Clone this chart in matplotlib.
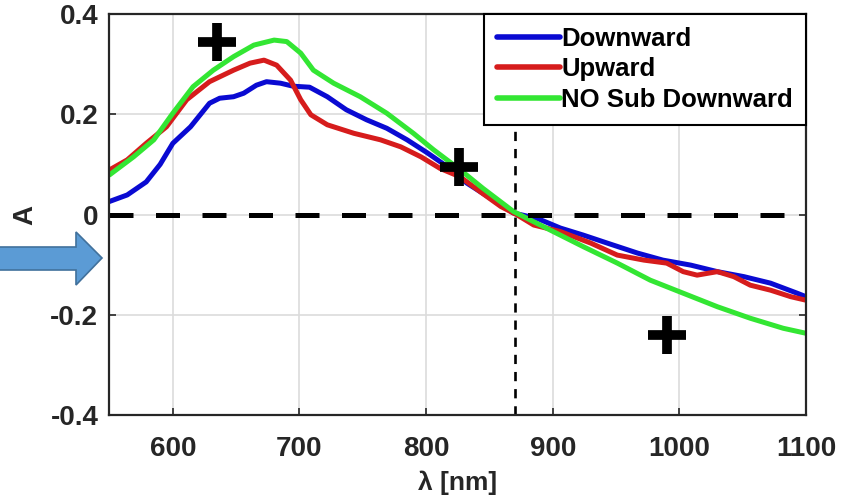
import matplotlib
matplotlib.use("Agg")
import matplotlib.pyplot as plt
from matplotlib.patches import Polygon

plt.rcParams['font.family'] = ['Liberation Sans', 'DejaVu Sans']
plt.rcParams['font.weight'] = 'bold'

# Downward
down_x = [550, 564, 579, 590, 600, 614, 629, 637, 648, 656, 666, 674, 685, 695, 708,
          722, 737, 753, 769, 785, 801, 817, 832, 853, 869, 888, 906, 924, 943, 967,
          987, 1009, 1030, 1051, 1072, 1093, 1100]
down_y = [0.026, 0.039, 0.065, 0.100, 0.142, 0.175, 0.222, 0.232, 0.235, 0.242, 0.258,
          0.265, 0.262, 0.256, 0.254, 0.235, 0.209, 0.189, 0.172, 0.149, 0.123, 0.095,
          0.063, 0.029, 0.003, -0.008, -0.027, -0.041, -0.057, -0.077, -0.091, -0.101,
          -0.114, -0.124, -0.137, -0.157, -0.164]

# Upward
up_x = [550, 564, 579, 595, 611, 629, 648, 661, 672, 682, 693, 701, 709, 722, 743,
        764, 780, 796, 811, 827, 843, 859, 872, 885, 906, 930, 951, 972, 990, 1003,
        1014, 1030, 1043, 1056, 1072, 1088, 1100]
up_y = [0.089, 0.109, 0.142, 0.175, 0.229, 0.265, 0.288, 0.302, 0.308, 0.298, 0.268,
        0.229, 0.199, 0.179, 0.162, 0.149, 0.135, 0.115, 0.092, 0.075, 0.045, 0.016,
        -0.001, -0.021, -0.034, -0.057, -0.081, -0.091, -0.097, -0.114, -0.121, -0.114,
        -0.124, -0.141, -0.151, -0.164, -0.171]

# NO Sub Downward
nosub_x = [550, 569, 585, 600, 616, 632, 648, 664, 680, 690, 701, 711, 727, 748, 769,
           790, 806, 827, 845, 869, 898, 924, 951, 977, 1003, 1030, 1056, 1082, 1100]
nosub_y = [0.079, 0.115, 0.149, 0.202, 0.255, 0.288, 0.315, 0.338, 0.348, 0.345, 0.322,
           0.288, 0.262, 0.235, 0.202, 0.162, 0.129, 0.089, 0.052, 0.006, -0.031, -0.064,
           -0.097, -0.131, -0.157, -0.184, -0.207, -0.227, -0.237]

# plus markers
plus_x = [635, 826, 990]
plus_y = [0.345, 0.095, -0.24]

cross_x = 870
x_ticks = [600, 700, 800, 900, 1000, 1100]
y_ticks = [-0.4, -0.2, 0, 0.2, 0.4]
tick_labels_y = ['-0.4', '-0.2', '0', '0.2', '0.4']

fig = plt.figure(figsize=(8.58, 5.01), dpi=100)
ax = fig.add_axes([0.1276, 0.1717, 0.9394 - 0.1276, 0.972 - 0.1717])

ax.grid(True, color='#dcdcdc', linewidth=1.2, zorder=0)
ax.axhline(0, color='black', linewidth=3.6, linestyle=(0, (4.8, 4.5)), zorder=4)
ax.axvline(cross_x, color='black', linewidth=1.9, linestyle=(0, (3.5, 3.0)), zorder=4)

ax.plot(down_x, down_y, color='#0a0ad2', lw=3.6, label='Downward', zorder=3,
        solid_joinstyle='round', solid_capstyle='round')
ax.plot(up_x, up_y, color='#d61c1c', lw=3.6, label='Upward', zorder=3,
        solid_joinstyle='round', solid_capstyle='round')
ax.plot(nosub_x, nosub_y, color='#33e633', lw=3.6, label='NO Sub Downward', zorder=3,
        solid_joinstyle='round', solid_capstyle='round')

ax.plot(plus_x, plus_y, linestyle='none', marker='+', markersize=27, markeredgewidth=7,
        color='black', zorder=5)

ax.set_xlim(550, 1100)
ax.set_ylim(-0.4, 0.4)
ax.set_xticks(x_ticks)
ax.set_yticks(y_ticks)
ax.set_yticklabels(tick_labels_y)
ax.tick_params(direction='in', length=5, width=1.2, labelsize=20, colors='#262626',
               top=False, right=True)
ax.tick_params(axis='x', pad=15)
ax.tick_params(axis='y', pad=8)
for s in ax.spines.values():
    s.set_linewidth(1.6)
    s.set_color('#262626')
    s.set_zorder(6)

ax.set_xlabel('λ [nm]', fontsize=19, fontweight='bold', color='#262626', labelpad=6)
ax.set_ylabel('A', fontsize=20, fontweight='bold', color='#262626', labelpad=9)

leg = ax.legend(loc='upper right', borderaxespad=0, fontsize=18.5, handlelength=2.45,
                handletextpad=0.05, labelspacing=0.25, borderpad=0.5,
                fancybox=False, framealpha=1, edgecolor='black')
leg.get_frame().set_linewidth(1.5)
leg.set_zorder(7)
for line in leg.get_lines():
    line.set_linewidth(4)

# blue arrow on the left, drawn in pixels (y from top)
arrow_px = [(-2, 247), (76, 247), (76, 232), (102, 258), (76, 285), (76, 270), (-2, 270)]
arrow_in = [(px / 100, 5.01 - py / 100) for px, py in arrow_px]
fig.patches.append(Polygon(arrow_in, closed=True, transform=fig.dpi_scale_trans,
                           facecolor='#5b9bd5', edgecolor='#41719c', linewidth=1.2))

fig.savefig('out.png', dpi=100)
